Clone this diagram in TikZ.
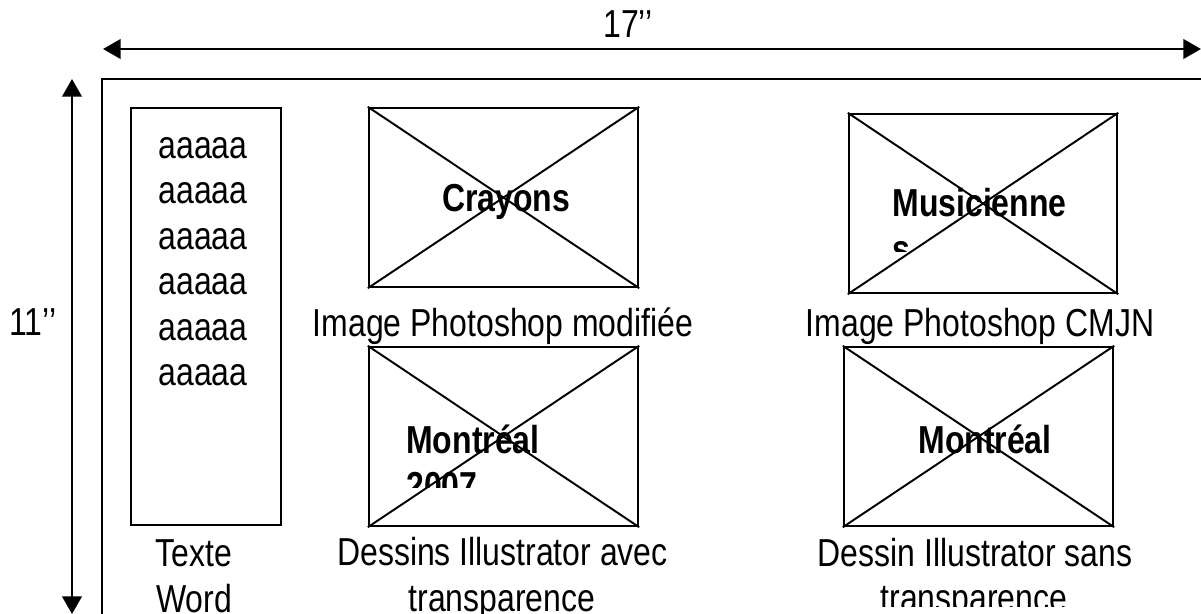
\documentclass[tikz,border=0pt]{standalone}
\usepackage{fontspec}
\setmainfont[FakeStretch=0.82]{Liberation Sans}
\usetikzlibrary{arrows.meta}

\tikzset{
  lbl/.style={inner sep=0, anchor=base, font=\fontsize{22.2pt}{25.9pt}\selectfont},
  titre/.style={lbl, font=\fontsize{22.2pt}{25.9pt}\selectfont\bfseries},
  imgbox/.style={draw, line width=1.4pt, inner sep=0, minimum width=5.38cm, minimum height=3.58cm},
  dim/.style={line width=1.6pt, {Triangle[length=10pt,width=11pt]}-{Triangle[length=10pt,width=11pt]}},
  croix/.style={line width=1.1pt}
}

\begin{document}
\begin{tikzpicture}[x=0.02cm, y=-0.02cm]
    \useasboundingbox (0,0) rectangle (1201,613);
    \clip (0,0) rectangle (1201,613);

    % la feuille
    \draw[line width=1.2pt] (102,79) rectangle (1250,660);

    % les cotes
    \coordinate (g) at (103,49);
    \coordinate (d) at (1201,49);
        \draw[dim] (g) -- (d);
        \node[lbl] (larg) at (628,37.5) {17’’};
    \coordinate (h) at (72,79);
    \coordinate (b) at (72,614);
        \draw[dim] (h) -- (b);
        \node[lbl] (haut) at (33,335.5) {11’’};

    % texte Word
    \node[imgbox, minimum width=3cm, minimum height=8.34cm] (word) at (206,316.5) {};
        \foreach \i in {0,...,5}
            \node[lbl] (a\i) at (203,158+45.5*\i) {aaaaa};
        \node[lbl] (texte) at (194,566.5) {Texte};
        \node[lbl] (mot) at (194,612) {Word};

    % les images
    \node[imgbox] (crayons) at (503.5,197.5) {};
    \node[imgbox, minimum width=5.36cm] (musique) at (983,203.5) {};
    \node[imgbox] (mtl7) at (503.5,436.5) {};
    \node[imgbox] (mtl) at (978.5,436.5) {};
    \foreach \n in {crayons,musique,mtl7,mtl}{
        \draw[croix] (\n.north west) -- (\n.south east);
        \draw[croix] (\n.south west) -- (\n.north east);
    }

        \node[titre] (t1) at (506,211.5) {Crayons};
        \node[lbl] (c1) at (503,336.5) {Image Photoshop modifiée};

    \begin{scope}
        \clip (849,114) rectangle (1117,251);
        \node[titre, anchor=base west] (t2) at (892,216.5) {Musicienne};
        \node[titre, anchor=base west] (t2b) at (892,262) {s};
    \end{scope}
        \node[lbl] (c2) at (980,336.5) {Image Photoshop CMJN};

    \begin{scope}
        \clip (369,347) rectangle (638,487);
        \node[titre, anchor=base west] (t3) at (406,453.5) {Montréal};
        \node[titre, anchor=base west] (t3b) at (406,499) {2007};
    \end{scope}
        \node[lbl] (c3) at (502.5,565.5) {Dessins Illustrator avec};
        \node[lbl] (c3b) at (502,611) {transparence};

        \node[titre] (t4) at (985,453.5) {Montréal};
        \node[lbl] (c4) at (975,566.5) {Dessin Illustrator sans};
    \begin{scope}
        \clip (700,580) rectangle (1201,606);
        \node[lbl] (c4b) at (974,611) {transparence};
    \end{scope}

\end{tikzpicture}
\end{document}
